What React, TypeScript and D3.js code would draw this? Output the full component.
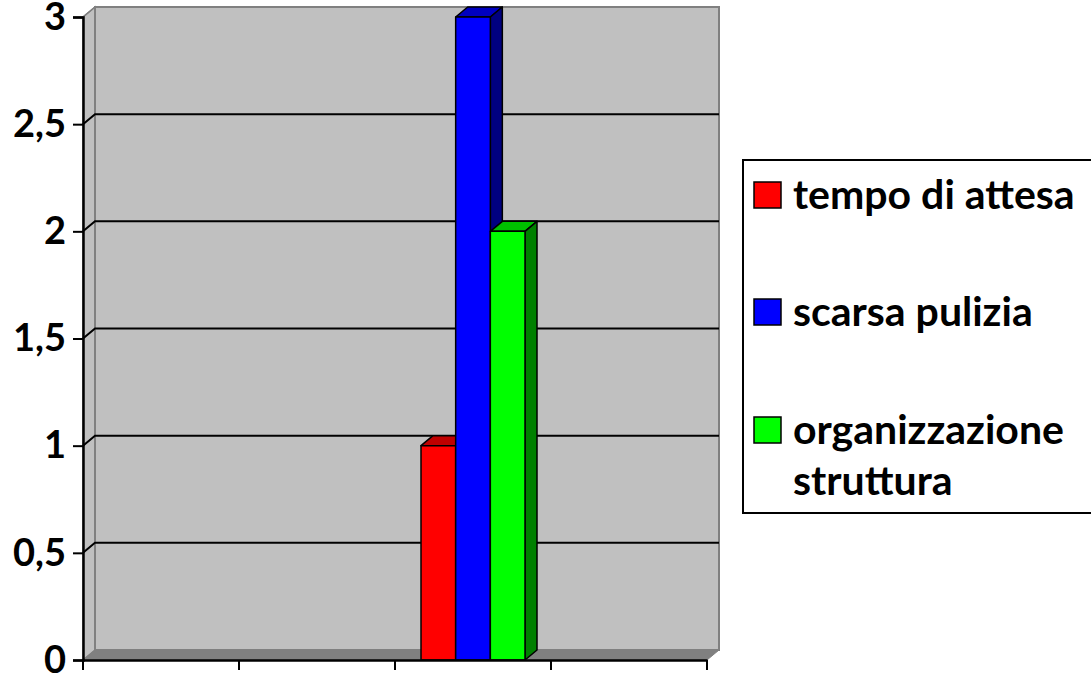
import { useEffect, useRef } from 'react'
import * as d3 from 'd3'

const categories = ['c1', 'c2', 'c3', 'c4']
const seriesNames = ['tempo di attesa', 'scarsa pulizia', 'organizzazione struttura']
const tempoDiAttesa = [null, null, 1, null]
const scarsaPulizia = [null, null, 3, null]
const organizzazioneStruttura = [null, null, 2, null]
const yTicks = [0, 0.5, 1, 1.5, 2, 2.5, 3]
const legendLines = [['tempo di attesa'], ['scarsa pulizia'], ['organizzazione', 'struttura']]

const fills = [
  { front: '#ff0000', top: '#c00000', side: '#800000' },
  { front: '#0000ff', top: '#0000c0', side: '#000080' },
  { front: '#00ff00', top: '#00c000', side: '#008000' },
]

const FONT = 'Lato, Carlito, Calibri, sans-serif'

export default function App() {
  const svgRef = useRef<SVGSVGElement>(null)

  useEffect(() => {
    const width = 1091
    const height = 676
    const svg = d3.select(svgRef.current)
    svg.selectAll('*').remove()
    svg.attr('viewBox', `0 0 ${width} ${height}`).attr('width', width).attr('height', height)

    const values = [tempoDiAttesa, scarsaPulizia, organizzazioneStruttura]
    const dx = 12
    const dy = -10

    const x = d3.scaleBand().domain(categories).range([83, 707])
    const y = d3.scaleLinear().domain([0, 3]).range([660, 17])

    const bw = x.bandwidth()
    const barW = bw / 4.5 // gap width 150%
    const inner = d3
      .scaleBand()
      .domain(seriesNames)
      .range([barW * 0.75, bw - barW * 0.75])

    const x0 = 83
    const x1 = 707
    const y0 = y(0)
    const yTop = y(3)

    // walls and floor
    svg.append('polygon')
      .attr('points', [[x0, yTop], [x0 + dx, yTop + dy], [x0 + dx, y0 + dy], [x0, y0]].join(' '))
      .attr('fill', '#c0c0c0')
      .attr('stroke', '#808080')
      .attr('stroke-width', 1.5)
    svg.append('rect')
      .attr('x', x0 + dx)
      .attr('y', yTop + dy)
      .attr('width', x1 - x0)
      .attr('height', y0 - yTop)
      .attr('fill', '#c0c0c0')
      .attr('stroke', '#808080')
      .attr('stroke-width', 2)
    svg.append('polygon')
      .attr('points', [[x0, y0], [x0 + dx, y0 + dy], [x1 + dx, y0 + dy], [x1, y0]].join(' '))
      .attr('fill', '#808080')
      .attr('stroke', '#808080')
      .attr('stroke-width', 1)

    // gridlines
    const grid = svg.append('g')
    yTicks.filter((t) => t > 0 && t < 3).forEach((t) => {
      grid.append('path')
        .attr('d', `M${x0},${y(t)}L${x0 + dx},${y(t) + dy}L${x1 + dx},${y(t) + dy}`)
        .attr('fill', 'none')
        .attr('stroke', '#000')
        .attr('stroke-width', 2)
    })
    grid.append('path')
      .attr('d', `M${x0},${yTop}L${x0 + dx},${yTop + dy}`)
      .attr('stroke', '#808080')
      .attr('stroke-width', 1.5)

    // bars
    const bars = svg.append('g').attr('stroke', '#000').attr('stroke-width', 1.5).attr('stroke-linejoin', 'round')
    categories.forEach((c, ci) => {
      seriesNames.forEach((s, si) => {
        const v = values[si][ci]
        if (v == null) return
        const bx = (x(c) ?? 0) + (inner(s) ?? 0)
        const w = inner.bandwidth()
        const by = y(v)
        bars.append('polygon')
          .attr('points', [[bx, by], [bx + dx, by + dy], [bx + w + dx, by + dy], [bx + w, by]].join(' '))
          .attr('fill', fills[si].top)
        bars.append('polygon')
          .attr('points', [[bx + w, by], [bx + w + dx, by + dy], [bx + w + dx, y0 + dy], [bx + w, y0]].join(' '))
          .attr('fill', fills[si].side)
        bars.append('rect')
          .attr('x', bx)
          .attr('y', by)
          .attr('width', w)
          .attr('height', y0 - by)
          .attr('fill', fills[si].front)
      })
    })

    // axes
    const yAxis = svg.append('g')
      .attr('transform', `translate(${x0},0)`)
      .call(d3.axisLeft(y).tickValues(yTicks).tickSize(10).tickPadding(7).tickFormat((d) => String(d).replace('.', ',')))
    yAxis.select('.domain').attr('stroke-width', 2.5)
    yAxis.selectAll('line').attr('stroke-width', 2)
    yAxis.selectAll('text')
      .attr('font-family', FONT)
      .attr('font-weight', 700)
      .attr('font-size', 38)
      .attr('fill', '#000')

    const xAxis = svg.append('g')
      .attr('transform', `translate(0,${y0})`)
      .call(d3.axisBottom(x).tickSize(0).tickFormat(() => ''))
    xAxis.select('.domain').attr('stroke-width', 2.5)
    const bounds = [...categories.map((c) => x(c) ?? 0), x1]
    bounds.forEach((bx) => {
      xAxis.append('line').attr('x1', bx).attr('x2', bx).attr('y1', 0).attr('y2', 10)
        .attr('stroke', '#000').attr('stroke-width', 2)
    })

    // legend
    const lg = svg.append('g')
    lg.append('rect')
      .attr('x', 743)
      .attr('y', 160)
      .attr('width', 400)
      .attr('height', 353)
      .attr('fill', '#fff')
      .attr('stroke', '#000')
      .attr('stroke-width', 2)
    const rowY = [182, 299, 417]
    legendLines.forEach((lines, i) => {
      lg.append('rect')
        .attr('x', 754)
        .attr('y', rowY[i])
        .attr('width', 27)
        .attr('height', 26)
        .attr('fill', fills[i].front)
        .attr('stroke', '#000')
        .attr('stroke-width', 1.5)
      lines.forEach((ln, li) => {
        lg.append('text')
          .attr('x', 793)
          .attr('y', rowY[i] + 27 + li * 51)
          .attr('font-family', FONT)
          .attr('font-weight', 700)
          .attr('font-size', 41)
          .attr('fill', '#000')
          .text(ln)
      })
    })
  }, [])

  return (
    <svg
      ref={svgRef}
      style={{ position: 'absolute', left: 0, top: 0, background: '#fff' }}
    />
  )
}
